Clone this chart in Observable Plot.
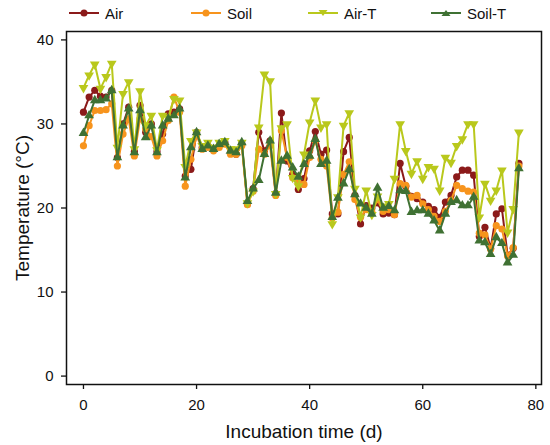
<!DOCTYPE html>
<html><head><meta charset="utf-8">
<script src="https://cdn.jsdelivr.net/npm/d3@7"></script>
<script src="https://cdn.jsdelivr.net/npm/@observablehq/plot@0.6"></script>
<style>
body{margin:0;background:#fff;font-family:"Liberation Sans",Arial,sans-serif;}
#legend{position:relative;height:24px;width:550px;}
.item{position:absolute;top:1px;height:24px;display:flex;align-items:center;font-size:15px;color:#111;}
.item svg{margin-right:6px;}
</style></head><body>
<div id="legend"></div>
<div id="chart"></div>
<script>
const days = d3.range(0, 78);
const air = [31.4,33.2,34.0,33.3,33.2,34.0,26.0,30.0,32.0,26.7,32.2,29.0,30.0,26.7,28.8,31.2,31.4,31.8,23.8,24.6,
  29.0,27.2,27.4,27.0,27.4,27.8,26.6,26.4,27.6,20.5,22.3,29.0,26.8,28.0,21.7,31.3,25.6,24.0,22.2,23.5,
  26.8,29.1,26.4,26.9,19.3,19.3,26.7,28.4,21.5,18.1,20.3,20.0,20.6,19.3,19.4,19.2,25.3,22.6,21.4,21.1,
  20.7,20.2,19.8,18.9,20.7,21.5,23.7,24.5,24.5,23.9,16.6,17.7,15.2,19.3,19.9,14.4,15.2,25.3];
const soil = [27.4,29.8,31.6,31.6,31.7,32.4,25.0,28.8,30.6,26.2,30.6,29.4,28.5,26.2,28.0,30.4,33.2,31.4,22.6,25.8,
  28.6,27.0,27.2,26.8,27.2,27.6,26.4,26.4,27.4,20.4,22.0,27.0,26.4,27.4,21.5,29.2,26.0,23.6,23.0,22.8,
  26.0,28.0,25.8,25.0,18.8,19.5,24.0,25.5,21.0,18.9,19.8,19.5,21.0,19.6,19.8,19.2,22.9,22.7,21.3,21.5,
  20.5,19.8,19.0,18.4,19.6,20.9,22.7,22.3,22.0,21.9,17.0,16.8,15.1,17.9,17.5,14.3,15.3,25.0];
const airT = [34.3,35.8,37.1,34.2,35.6,37.2,27.2,33.6,35.0,27.0,33.9,29.8,31.0,26.9,31.0,30.8,33.0,32.8,24.9,28.0,
  29.0,27.4,27.8,27.2,27.8,28.0,27.0,27.0,27.8,20.6,22.0,29.6,35.9,35.1,21.7,29.5,30.0,23.6,22.6,26.4,
  30.2,32.8,29.6,30.0,18.1,21.3,29.8,31.3,22.3,18.9,22.1,19.2,21.4,20.2,20.5,23.5,30.0,26.8,24.1,25.6,
  23.5,24.9,24.7,22.1,26.0,25.4,27.4,28.2,30.0,30.0,18.9,22.9,20.9,22.1,24.5,17.1,19.9,29.0];
const soilT = [28.9,31.0,32.8,32.8,33.0,34.0,26.0,29.8,31.8,26.6,31.6,28.4,29.8,26.6,29.8,30.6,31.0,31.8,23.6,27.2,
  29.0,27.0,27.4,27.0,27.6,27.8,26.8,26.6,27.8,20.8,22.3,23.3,26.4,28.0,21.8,25.6,26.2,24.8,23.7,25.2,
  26.2,28.2,25.2,25.6,18.9,21.2,22.9,24.6,21.6,20.5,20.0,19.3,22.4,20.0,20.2,19.7,22.1,22.0,19.5,19.7,
  19.7,19.3,18.5,17.3,19.3,20.7,20.9,20.3,20.3,21.3,16.1,15.9,14.5,16.5,15.8,13.5,14.4,24.7];

const seriesNames = ["Air", "Soil", "Air-T", "Soil-T"];
const seriesColors = ["#8b1a1a", "#f7941d", "#b9c81c", "#3f7133"];
const seriesSymbols = ["circle", "circle", "triangle", "triangle"];
const seriesRotate = [0, 0, 180, 0];
const seriesValues = [air, soil, airT, soilT];
const xTicks = [0, 20, 40, 60, 80];
const yTicks = [0, 10, 20, 30, 40];

const rows = seriesNames.map((name, i) => seriesValues[i].map((v, j) => ({day: days[j], temp: v, series: name})));

// legend
const legendX = [69, 191, 308, 431];
const legend = document.getElementById("legend");
seriesNames.forEach((name, i) => {
  const c = seriesColors[i];
  let marker;
  if (seriesSymbols[i] === "circle") marker = `<circle cx="15" cy="8" r="3.5" fill="${c}"/>`;
  else if (seriesRotate[i] === 180) marker = `<polygon points="10.5,5 19.5,5 15,11" fill="${c}"/>`;
  else marker = `<polygon points="10.5,11 19.5,11 15,5" fill="${c}"/>`;
  const div = document.createElement("div");
  div.className = "item";
  div.style.left = legendX[i] + "px";
  div.innerHTML = `<svg width="30" height="16"><line x1="0" x2="30" y1="8" y2="8" stroke="${c}" stroke-width="2"/>${marker}</svg><span>${name}</span>`;
  legend.appendChild(div);
});

const marks = [];
rows.forEach((data, i) => {
  marks.push(Plot.line(data, {x: "day", y: "temp", stroke: seriesColors[i], strokeWidth: 2}));
  marks.push(Plot.dot(data, {x: "day", y: "temp", fill: seriesColors[i], symbol: seriesSymbols[i], r: 3.6, rotate: seriesRotate[i]}));
});

const chart = Plot.plot({
  width: 550,
  height: 421,
  marginLeft: 66,
  marginRight: 9,
  marginTop: 7,
  marginBottom: 61,
  style: {fontFamily: "'Liberation Sans', Arial, sans-serif", fontSize: "15px", color: "#111", background: "#fff"},
  x: {domain: [-3, 81]},
  y: {domain: [-1, 41]},
  marks: [
    Plot.axisX(xTicks, {tickSize: 5, tickPadding: 10, strokeWidth: 1.3, fontSize: 15, label: "Incubation time (d)", labelAnchor: "center", labelOffset: 53, labelArrow: "none"}),
    Plot.axisY(yTicks, {tickSize: 5, tickPadding: 8, strokeWidth: 1.3, fontSize: 15, label: "Temperature (°C)", labelAnchor: "center", labelOffset: 51, labelArrow: "none"}),
    ...marks,
    Plot.frame({stroke: "#111", strokeWidth: 1.5})
  ]
});
chart.querySelectorAll("g[aria-label='x-axis label'], g[aria-label='y-axis label']").forEach(el => el.setAttribute("font-size", "19"));
document.getElementById("chart").appendChild(chart);
</script>
</body></html>
